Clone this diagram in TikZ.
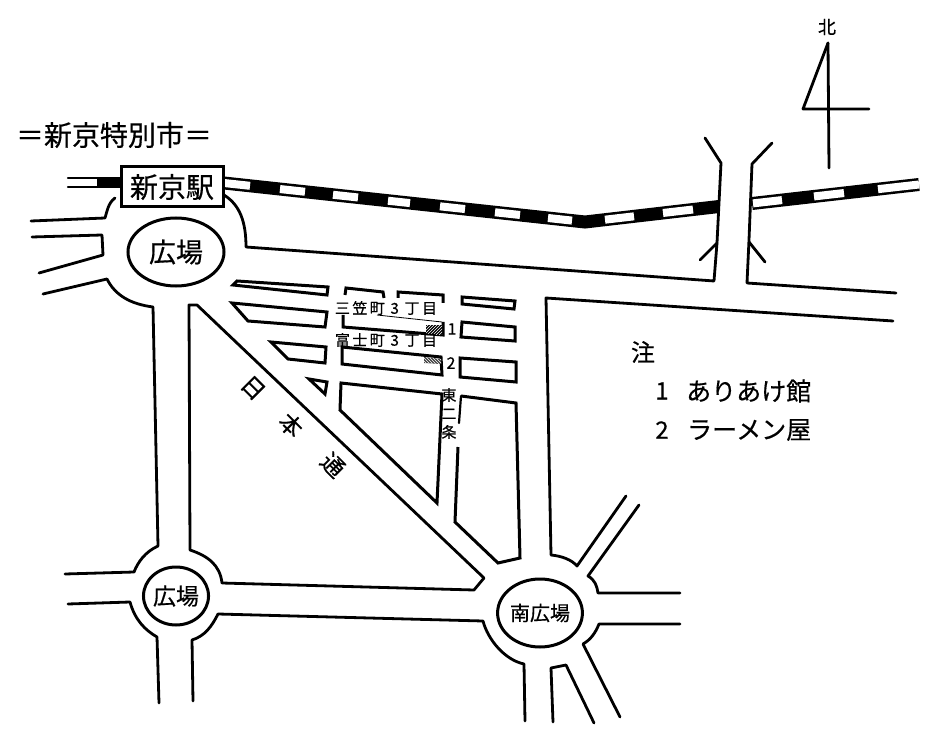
\documentclass[tikz,border=0pt]{standalone}
\usepackage{fontspec}
\setmainfont[FakeBold=0.5]{Noto Sans CJK JP}
\newfontfamily\widecjk[LetterSpace=16,FakeBold=0.5]{Noto Sans CJK JP}
\usetikzlibrary{calc,patterns,shapes.geometric}
\tikzset{
  road/.style={line width=2.8pt,line join=round,line cap=round},
  thinroad/.style={line width=2.2pt,line join=round,line cap=round},
  block/.style={line width=3pt,line join=miter},
  railbed/.style={line width=13pt,black},
  railgap/.style={line width=8pt,white},
  plaza/.style={draw,ellipse,line width=3pt,inner sep=0pt},
  txt/.style={inner sep=0pt,font=\fontsize{#1}{#1}\selectfont},
  chome/.style={inner sep=0pt,font=\fontsize{15}{15}\widecjk},
}
\begin{document}
\begin{tikzpicture}[x=1pt,y=-1pt]
\useasboundingbox (0,0) rectangle (940,735);

\node[txt=28] (city) at (114,135) {＝新京特別市＝};

% rail
\coordinate (railA) at (224,183);
\coordinate (railB) at (585,222);
\coordinate (railC) at (719,206.5);
\coordinate (railD) at (752,203.5);
\coordinate (railE) at (919,184.5);
\draw[railbed] (railA) -- (railB) -- (railC);
\draw[railbed] (railD) -- (railE);
\foreach \xa/\xb in {224/250,280/305,333/358,388/410,440/465,495/520,548/572}
  \draw[railgap] ($(railA)!{(\xa-224)/361}!(railB)$) -- ($(railA)!{(\xb-224)/361}!(railB)$);
\foreach \xa/\xb in {605/634,663/693}
  \draw[railgap] ($(railB)!{(\xa-585)/134}!(railC)$) -- ($(railB)!{(\xb-585)/134}!(railC)$);
\foreach \xa/\xb in {753/782,814/844,878/919}
  \draw[railgap] ($(railD)!{(\xa-752)/167}!(railE)$) -- ($(railD)!{(\xb-752)/167}!(railE)$);
\draw[thinroad] (68,178) -- (121,178) (68,187) -- (121,187);
\fill (97,178) rectangle (121,187);

\node[draw,line width=3pt,fill=white,minimum width=102pt,minimum height=40pt,inner sep=0pt,
  font=\fontsize{28}{28}\selectfont] (station) at (172,187) {新京駅};

% plazas
\node[plaza,minimum width=96pt,minimum height=68pt,txt=27] (plazaN) at (176,252) {広場};
\node[plaza,minimum width=60pt,minimum height=58pt,txt=23] (plazaW) at (176,596) {広場};
\node[plaza,minimum width=76pt,minimum height=68pt,txt=20] (plazaS) at (540,613) {南広場};

% roads round the upper plaza
\draw[road] (224,195) .. controls (240,205) and (246,222) .. (246,247) -- (714,281) -- (717,243) -- (700,260);
\draw[road] (717,243) -- (721,163) -- (705,138);
\draw[road] (115,198) .. controls (108,203) and (107,212) .. (105,218) -- (31,221);
\draw[road] (32,237) -- (102,235) -- (103,255) -- (39,273);
\draw[road] (43,294) -- (107,279) .. controls (115,295) and (130,304) .. (153,307) -- (158,546)
  .. controls (145,552) and (138,562) .. (134,572) -- (65,574);
\draw[road] (189,305) -- (197,305) -- (484,578) -- (474,590) -- (222,583)
  .. controls (220,565) and (208,556) .. (190,550) -- cycle;

% main road to the east and its crossing
\draw[road] (772,143) -- (752,164) -- (749,240) -- (747,283) -- (896,293);
\draw[road] (749,242) -- (765,262);
\draw[road] (893,321) -- (546,298) -- (551,555) .. controls (562,556) and (572,560) .. (577,566) -- (626,496);

% roads round the lower plazas
\draw[road] (68,604) -- (130,602) .. controls (135,620) and (145,630) .. (157,637) -- (159,703);
\draw[road] (193,701) -- (192,640) .. controls (205,636) and (212,626) .. (218,614) -- (483,621)
  .. controls (488,640) and (505,660) .. (524,664) -- (525,721);
\draw[road] (639,505) -- (588,576) .. controls (595,580) and (597,586) .. (598,593) -- (680,593);
\draw[road] (680,624) -- (599,624) .. controls (595,634) and (590,640) .. (583,644) -- (620,717);
\draw[road] (553,722) -- (551,668) -- (566,665) -- (594,723);

% north mark
\node[txt=18] (north) at (827,27) {北};
\draw[road] (828,43) -- (829,168);
\draw[road] (828,43) -- (803,109) -- (869,109);

% blocks
\draw[block] (233,285) -- (237,281) -- (328,287) -- (327,295) -- cycle;
\draw[block] (232,303) -- (327,312) -- (325,327) -- (248,321) -- cycle;
\draw[block] (271,342) -- (326,347) -- (325,363) -- (288,359) -- cycle;
\draw[block] (309,379) -- (327,382) -- (325,394) -- cycle;
\draw[block] (345,295) -- (346,288) -- (383,292) -- (384,298);
\draw[block] (398,298) -- (398,292) -- (443,295) -- (443,303);
\draw[line width=0.8pt] (377,315) -- (442,322);
\draw[block] (343,315) -- (343,327) -- (443,335) -- (443,322);
\fill (426,325) rectangle (442,335);
\fill[pattern=north east lines,pattern color=white] (426,325) rectangle (442,335);
\draw[block] (342,347) -- (441,357) -- (442,375) -- (342,364) -- cycle;
\fill[black!75] (424,357) -- (441,359) -- (441,364) -- (424,363) -- cycle;
\fill[pattern=north west lines,pattern color=white] (424,357) -- (441,359) -- (441,364) -- (424,363) -- cycle;
\draw[block] (462,297) -- (515,301) -- (514,309) -- (462,304) -- cycle;
\draw[block] (462,322) -- (515,327) -- (515,341) -- (461,337) -- cycle;
\draw[block] (460,358) -- (516,362) -- (516,382) -- (460,377) -- cycle;
\draw[block] (341,383) -- (442,394) -- (437,503) -- (340,410) -- cycle;
\draw[thinroad] (461,396) -- (459,423);
\draw[block] (461,396) -- (516,403) -- (520,558) -- (498,563) -- (455,522) -- (458,447);

% street names
\node[chome] (mikasa) at (386,308) {三笠町 3 丁目};
\node[chome] (fuji) at (386,340) {富士町 3 丁目};
\node[txt=16] (mark1) at (452,329) {1};
\node[txt=16] (mark2) at (451,363) {2};
\node[txt=15] (higashiA) at (449,395) {東};
\node[txt=15] (higashiB) at (449,414) {二};
\node[txt=15] (higashiC) at (449,432) {条};
\node[txt=23,rotate=-45] (nihonA) at (253,388) {日};
\node[txt=23,rotate=-45] (nihonB) at (291,425) {本};
\node[txt=23,rotate=-45] (nihonC) at (333,465) {通};

% notes
\node[txt=24] (note) at (643,352) {注};
\node[txt=24] (noteA) at (662,391) {1};
\node[txt=25,anchor=west] (hotel) at (686,391) {ありあけ館};
\node[txt=24] (noteB) at (662,430) {2};
\node[txt=25,anchor=west] (ramen) at (687,430) {ラーメン屋};
\end{tikzpicture}
\end{document}
